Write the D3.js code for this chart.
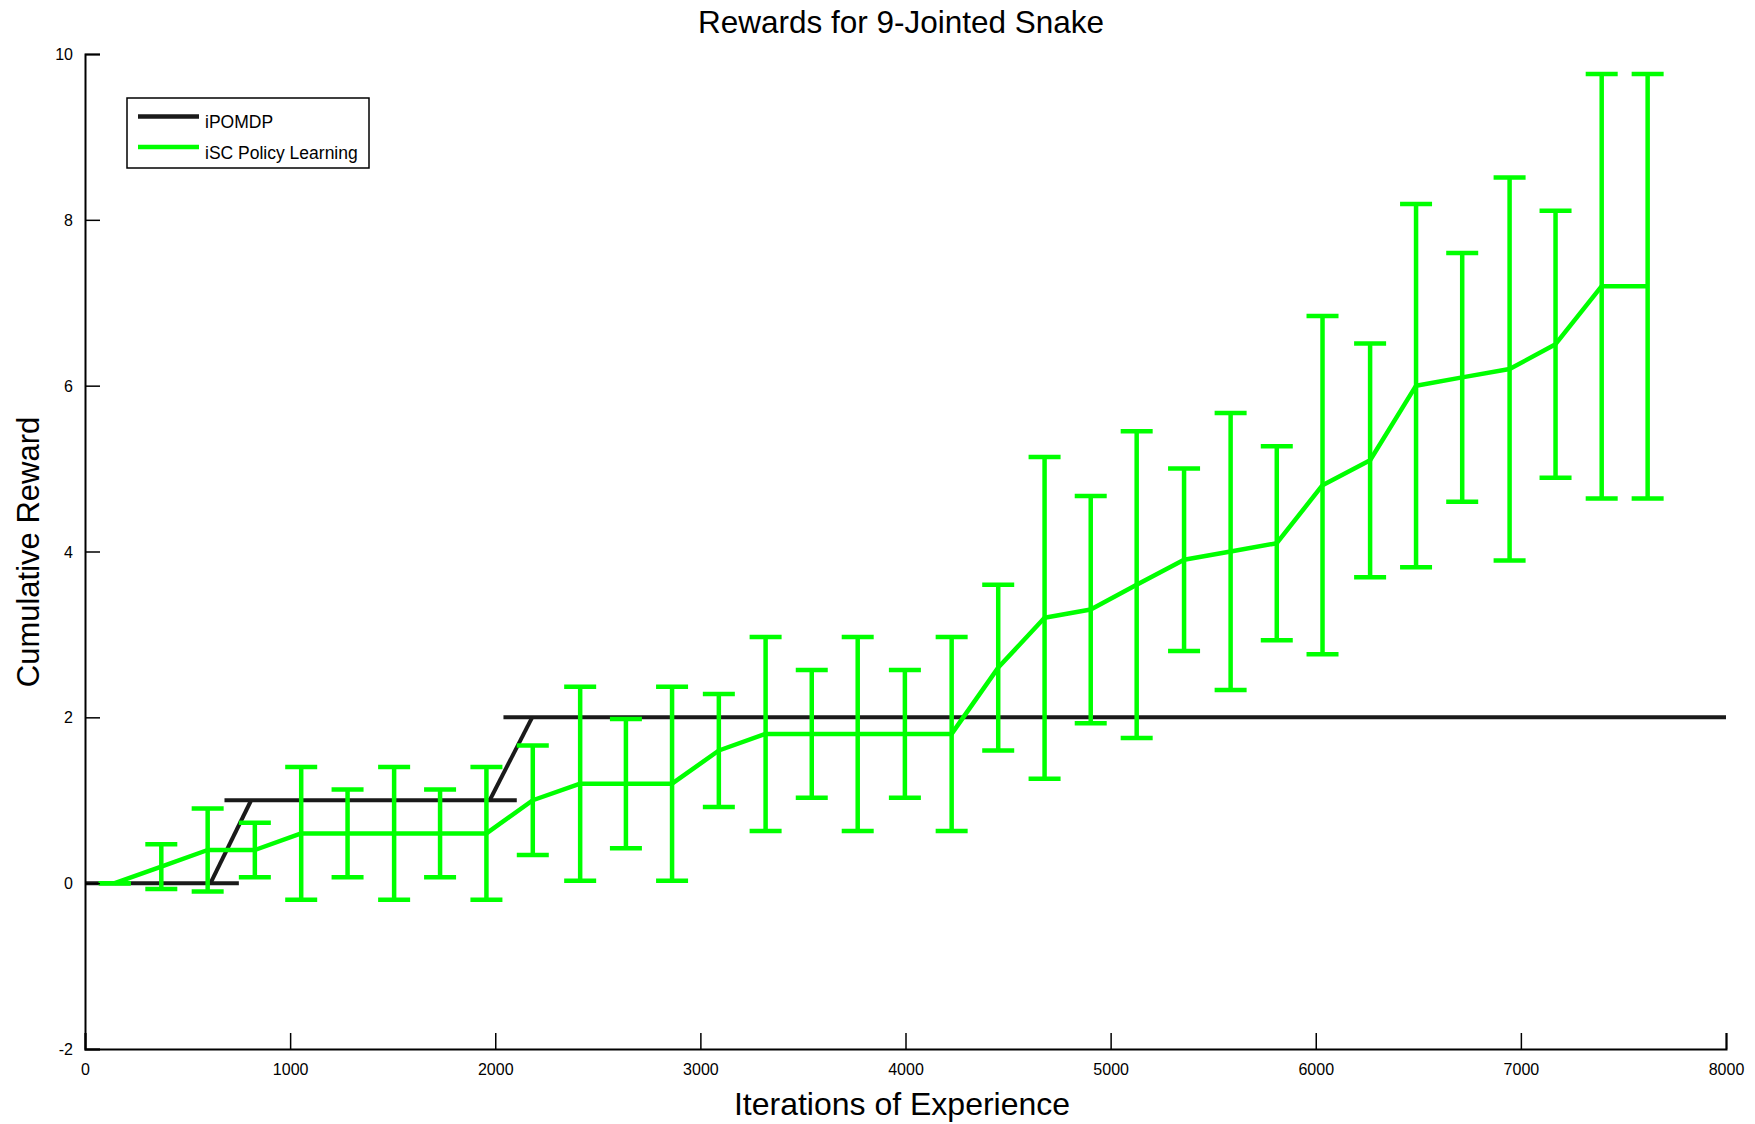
<!DOCTYPE html>
<html>
<head>
<meta charset="utf-8">
<script src="https://cdn.jsdelivr.net/npm/d3@7"></script>
<style>
    body { margin: 0; background: #fff; }
    svg text { font-family: "Liberation Sans", Arial, Helvetica, sans-serif; fill: #000; }
</style>
</head>
<body>
<div id="chart"></div>
<script>
// iSC Policy Learning: iteration, mean reward, error (+/-)
var iterations = [145, 372, 598, 828, 1054, 1280, 1507, 1731, 1957, 2183, 2414, 2637, 2862, 3090, 3318, 3543, 3767,
                  3997, 4225, 4452, 4678, 4903, 5127, 5358, 5585, 5810, 6033, 6265, 6489, 6714, 6945, 7169, 7394, 7618];
var meanReward = [0, 0.2, 0.4, 0.4, 0.6, 0.6, 0.6, 0.6, 0.6, 1.0, 1.2, 1.2, 1.2, 1.6, 1.8, 1.8, 1.8,
                  1.8, 1.8, 2.6, 3.2, 3.3, 3.6, 3.9, 4.0, 4.1, 4.8, 5.1, 6.0, 6.1, 6.2, 6.5, 7.2, 7.2];
var errReward = [0, 0.27, 0.5, 0.33, 0.8, 0.53, 0.8, 0.53, 0.8, 0.66, 1.17, 0.78, 1.17, 0.68, 1.17, 0.77, 1.17,
                 0.77, 1.17, 1.0, 1.94, 1.37, 1.85, 1.1, 1.67, 1.17, 2.04, 1.41, 2.19, 1.5, 2.31, 1.61, 2.56, 2.56];

// iPOMDP pieces: [x1, y1, x2, y2]
var ipomdpSegments = [
    [0, 0, 750, 0],
    [612, 0, 810, 1],
    [680, 1, 2105, 1],
    [1973, 1, 2180, 2],
    [2040, 2, 8000, 2]
];

var xTicks = [0, 1000, 2000, 3000, 4000, 5000, 6000, 7000, 8000];
var yTicks = [-2, 0, 2, 4, 6, 8, 10];
var legendLabels = ['iPOMDP', 'iSC Policy Learning'];
var legendColors = ['#1a1a1a', '#00ff00'];

var W = 1755, H = 1124;
var margin = {top: 54, right: 29, bottom: 75, left: 85},
    width = W - margin.left - margin.right,
    height = H - margin.top - margin.bottom;

var xScale = d3.scaleLinear().domain([0, 8000]).range([0, width]);
var yScale = d3.scaleLinear().domain([-2, 10]).range([height, 0]);

var svg = d3.select('#chart').append('svg')
            .attr('width', W)
            .attr('height', H);

var g = svg.append('g')
           .attr('transform', 'translate(' + margin.left + ',' + margin.top + ')');

// black iPOMDP line
g.selectAll('line.ipomdp')
    .data(ipomdpSegments)
    .enter().append('line')
    .attr('class', 'ipomdp')
    .attr('x1', d => xScale(d[0]))
    .attr('y1', d => yScale(d[1]))
    .attr('x2', d => xScale(d[2]))
    .attr('y2', d => yScale(d[3]))
    .style('stroke', legendColors[0])
    .style('stroke-width', 4);

// green errorbar series
var pts = iterations.map((x, i) => ({x: x, y: meanReward[i], e: errReward[i]}));

var line = d3.line()
             .x(d => xScale(d.x))
             .y(d => yScale(d.y));

g.append('path')
    .datum(pts)
    .attr('d', line)
    .style('fill', 'none')
    .style('stroke', legendColors[1])
    .style('stroke-width', 4.5)
    .style('stroke-linejoin', 'round');

var capHalf = 16;
var bars = g.selectAll('g.ebar').data(pts).enter().append('g').attr('class', 'ebar');
bars.append('line')
    .attr('x1', d => xScale(d.x)).attr('x2', d => xScale(d.x))
    .attr('y1', d => yScale(d.y - d.e)).attr('y2', d => yScale(d.y + d.e));
bars.append('line')
    .attr('x1', d => xScale(d.x) - capHalf).attr('x2', d => xScale(d.x) + capHalf)
    .attr('y1', d => yScale(d.y + d.e)).attr('y2', d => yScale(d.y + d.e));
bars.append('line')
    .attr('x1', d => xScale(d.x) - capHalf).attr('x2', d => xScale(d.x) + capHalf)
    .attr('y1', d => yScale(d.y - d.e)).attr('y2', d => yScale(d.y - d.e));
bars.selectAll('line')
    .style('stroke', legendColors[1])
    .style('stroke-width', 4.5);

// Axes (inward ticks, no box)
var xAxis = d3.axisTop(xScale).tickValues(xTicks).tickSize(16).tickFormat(d => String(d));
var yAxis = d3.axisRight(yScale).tickValues(yTicks).tickSize(15).tickFormat(d => String(d));

var gx = g.append('g').attr('transform', 'translate(0,' + height + ')').call(xAxis);
var gy = g.append('g').call(yAxis);

[gx, gy].forEach(a => {
    a.select('.domain').attr('stroke', '#000').attr('stroke-width', 2);
    a.selectAll('.tick line').attr('stroke', '#000').attr('stroke-width', 1.5);
    a.selectAll('.tick text').attr('fill', '#000').style('font-size', '16px');
});
gx.selectAll('.tick text').attr('y', 26).attr('dy', 0).attr('text-anchor', 'middle');
gy.selectAll('.tick text').attr('x', -12).attr('dy', '0.35em').attr('text-anchor', 'end');

// Title and axis labels
svg.append('text')
   .attr('x', 901)
   .attr('y', 33)
   .attr('text-anchor', 'middle')
   .style('font-size', '31.5px')
   .text('Rewards for 9-Jointed Snake');
svg.append('text')
   .attr('x', 902)
   .attr('y', 1115)
   .attr('text-anchor', 'middle')
   .style('font-size', '32px')
   .text('Iterations of Experience');
svg.append('text')
   .attr('transform', 'translate(39,552) rotate(-90)')
   .attr('text-anchor', 'middle')
   .style('font-size', '31px')
   .text('Cumulative Reward');

// Legend
var legend = svg.append('g').attr('transform', 'translate(127,98)');
legend.append('rect')
      .attr('width', 242)
      .attr('height', 70)
      .style('fill', '#fff')
      .style('stroke', '#000')
      .style('stroke-width', 1.5);
legendLabels.forEach((lab, i) => {
    legend.append('line')
          .attr('x1', 11).attr('x2', 72)
          .attr('y1', 18.5 + i * 30.5).attr('y2', 18.5 + i * 30.5)
          .style('stroke', legendColors[i])
          .style('stroke-width', 4.5);
    legend.append('text')
          .attr('x', 78)
          .attr('y', 30 + i * 30.5)
          .style('font-size', '17.5px')
          .text(lab);
});
</script>
</body>
</html>
